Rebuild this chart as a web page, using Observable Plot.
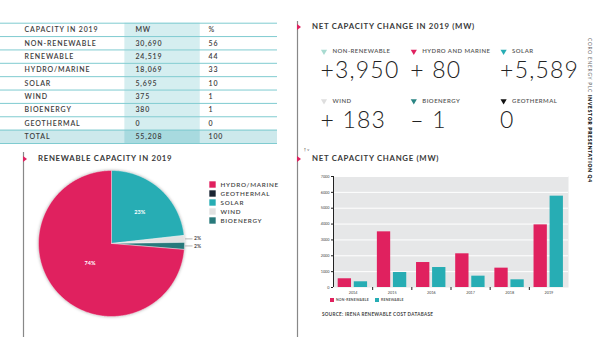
<!DOCTYPE html>
<html><head><meta charset="utf-8">
<script src="https://cdn.jsdelivr.net/npm/d3@7"></script>
<script src="https://cdn.jsdelivr.net/npm/@observablehq/plot@0.6"></script>
<style>
body{margin:0;background:#fff;}
#root{position:relative;width:601px;height:337px;overflow:hidden;font-family:Lato,"Open Sans",sans-serif;color:#333;background:#fff;}
#root svg{position:absolute;background:transparent;}
#root svg.overlay{z-index:20;pointer-events:none;}
.title{position:absolute;font-size:7.8px;font-weight:700;letter-spacing:0.7px;color:#3a3a3a;white-space:nowrap;line-height:1;z-index:5;}
.small{position:absolute;white-space:nowrap;line-height:1;font-weight:700;color:#555;z-index:5;}
.sw{position:absolute;width:4px;height:4px;z-index:5;}
.tbl text{letter-spacing:0.85px;}
.kpi g[font-size="6"] text{letter-spacing:0.45px;}
.kpi g[font-size="23"] text{letter-spacing:1.2px;}
.legend text{letter-spacing:0.7px;}
.pie g[aria-label="line"]{filter:drop-shadow(0 0 1.5px rgba(0,0,0,0.3));}
</style></head><body><div id="root"></div>
<script>
// ---------- data ----------
const tableHeader = ["CAPACITY IN 2019", "MW", "%"];
const tableCategories = ["NON-RENEWABLE","RENEWABLE","HYDRO/MARINE","SOLAR","WIND","BIOENERGY","GEOTHERMAL","TOTAL"];
const tableMW = [30690, 24519, 18069, 5695, 375, 380, 0, 55208];
const tablePct = [56, 44, 33, 10, 1, 1, 0, 100];

const kpiCategories = ["NON-RENEWABLE","HYDRO AND MARINE","SOLAR","WIND","BIOENERGY","GEOTHERMAL"];
const kpiChange = [3950, 80, 5589, 183, -1, 0];

const pieCategories = ["SOLAR","WIND","BIOENERGY","GEOTHERMAL","HYDRO/MARINE"];
const pieValues = [5695, 375, 380, 0, 18069];
const legendOrder = ["HYDRO/MARINE","GEOTHERMAL","SOLAR","WIND","BIOENERGY"];

const years = ["2014","2015","2016","2017","2018","2019"];
const seriesNames = ["NON-RENEWABLE","RENEWABLE"];
const nonRenewable = [550, 3510, 1575, 2125, 1220, 3950];
const renewable = [360, 945, 1260, 715, 485, 5760];

// ---------- styles ----------
const PINK = "#e0215f", TEAL = "#27adb4";
const pieColors = {"HYDRO/MARINE": PINK, "GEOTHERMAL": "#1b2533", "SOLAR": TEAL, "WIND": "#e2e2e2", "BIOENERGY": "#28797b"};
const kpiColors = ["#a9dbd1", PINK, TEAL, "#dedede", "#2a8583", "#111111"];
const font = "Lato, 'Open Sans', sans-serif";

const root = document.getElementById("root");
function place(el, left, top) { el.style.left = left + "px"; el.style.top = top + "px"; root.appendChild(el); return el; }
function div(cls, text, left, top, extra) { const d = document.createElement("div"); d.className = cls; d.textContent = text || ""; if (extra) Object.assign(d.style, extra); return place(d, left, top); }

// ---------- table ----------
const fmtN = d3.format(",");
const rows = [{i: 0, name: tableHeader[0], mw: tableHeader[1], pct: tableHeader[2], total: false}]
  .concat(tableCategories.map((c, k) => ({i: k + 1, name: c, mw: fmtN(tableMW[k]), pct: String(tablePct[k]), total: c === "TOTAL"})));
const nRows = rows.length;
const colMW = [0.449, 0.721];
const tbl = Plot.plot({
  className: "tbl", width: 277, height: 150, margin: 0,
  style: {fontFamily: font, background: "transparent"},
  x: {domain: [0, 1], range: [0, 277], axis: null},
  y: {domain: [0, nRows], range: [22.7, 143], axis: null},
  marks: [
    Plot.rect(rows.filter(d => d.total), {x1: 0, x2: 1, y1: d => d.i, y2: d => d.i + 1, fill: "#cde9ec"}),
    Plot.rect(rows, {x1: colMW[0], x2: colMW[1], y1: d => d.i, y2: d => d.i + 1, fill: d => d.total ? "#a8dadf" : "#d5eef0"}),
    Plot.ruleY(d3.range(nRows + 1), {stroke: "#7fcbd0", strokeWidth: 1}),
    Plot.text(rows, {x: 0.087, y: d => d.i + 0.5, text: "name", textAnchor: "start", fontSize: 7, fontWeight: 600, fill: "#3d3d3d"}),
    Plot.text(rows, {x: 0.487, y: d => d.i + 0.5, text: "mw", textAnchor: "start", fontSize: 7, fontWeight: 600, fill: "#3d3d3d"}),
    Plot.text(rows, {x: 0.751, y: d => d.i + 0.5, text: "pct", textAnchor: "start", fontSize: 7, fontWeight: 600, fill: "#3d3d3d"})
  ]
});
place(tbl, 0, 0);

// ---------- KPI ----------
const fmtChange = v => v === 0 ? "0" : (v > 0 ? "+" : "\u2013") + (Math.abs(v) >= 1000 ? "" : " ") + fmtN(Math.abs(v));
const kpi = kpiCategories.map((c, k) => ({cat: c, col: k % 3, row: Math.floor(k / 3), v: kpiChange[k], color: kpiColors[k]}));
const kpiPlot = Plot.plot({
  className: "kpi", width: 280, height: 110, margin: 0,
  style: {fontFamily: font, background: "transparent"},
  x: {domain: [0, 3], range: [20, 289.4], axis: null},
  y: {domain: [0, 2], range: [21, 120], axis: null},
  color: {type: "identity"},
  marks: [
    Plot.dot(kpi, {x: "col", y: "row", dx: 3.5, symbol: "triangle", rotate: 180, r: 2.3, fill: "color", stroke: null}),
    Plot.text(kpi, {x: "col", y: "row", dx: 12, text: "cat", textAnchor: "start", fontSize: 6, fontWeight: 600, fill: "#555"}),
    Plot.text(kpi, {x: "col", y: "row", dy: 19.5, text: d => fmtChange(d.v), textAnchor: "start", fontSize: 23, fontWeight: 300, fill: "#222"})
  ]
});
place(kpiPlot, 300, 30);

// ---------- pie ----------
const pieTotal = d3.sum(pieValues);
const arcs = d3.pie().sort(null).value(d => d.value)(pieCategories.map((c, k) => ({cat: c, value: pieValues[k]})));
const piePts = arcs.filter(a => a.data.value > 0).flatMap(a => {
  const n = Math.max(2, Math.ceil((a.endAngle - a.startAngle) / 0.01));
  const pts = [{cat: a.data.cat, x: 0, y: 0}];
  for (let j = 0; j <= n; j++) {
    const t = a.startAngle + (a.endAngle - a.startAngle) * j / n;
    pts.push({cat: a.data.cat, x: Math.sin(t), y: Math.cos(t)});
  }
  pts.push({cat: a.data.cat, x: 0, y: 0});
  return pts;
});
const pctFmt = d3.format(".0%");
const insideR = {"SOLAR": 0.58, "HYDRO/MARINE": 0.4};
const mid = a => (a.startAngle + a.endAngle) / 2;
const inside = arcs.filter(a => insideR[a.data.cat]).map(a => ({x: Math.sin(mid(a)) * insideR[a.data.cat], y: Math.cos(mid(a)) * insideR[a.data.cat], t: pctFmt(a.data.value / pieTotal)}));
const outside = arcs.filter(a => a.data.value > 0 && !insideR[a.data.cat]).map(a => ({x: Math.sin(mid(a)), y: Math.cos(mid(a)), t: pctFmt(a.data.value / pieTotal)}));
const piePlot = Plot.plot({
  className: "pie", width: 210, height: 192, margin: 0,
  style: {fontFamily: font, background: "transparent"},
  x: {domain: [-1, 1], range: [38, 184], axis: null},
  y: {domain: [-1, 1], range: [171, 25], axis: null},
  color: {domain: Object.keys(pieColors), range: Object.values(pieColors)},
  marks: [
    Plot.line(piePts, {x: "x", y: "y", z: "cat", fill: "cat", stroke: "white", strokeWidth: 0.4, curve: "linear"}),
    Plot.text(inside, {x: "x", y: "y", text: "t", fill: "white", fontSize: 5.5, fontWeight: 700}),
    Plot.link(outside, {x1: d => d.x * 1.01, y1: "y", x2: 1.11, y2: "y", stroke: "#888", strokeWidth: 0.6}),
    Plot.text(outside, {x: 1.13, y: "y", text: "t", textAnchor: "start", fill: "#555", fontSize: 5, fontWeight: 700})
  ]
});
place(piePlot, 0, 145);

const legendPlot = Plot.plot({
  className: "legend", width: 90, height: 65, margin: 0,
  style: {fontFamily: font, background: "transparent"},
  x: {domain: [0, 1], range: [7, 15], axis: null},
  y: {type: "point", domain: legendOrder, range: [9, 55.6], axis: null},
  color: {domain: Object.keys(pieColors), range: Object.values(pieColors)},
  marks: [
    Plot.dot(legendOrder, {x: () => 0, y: d => d, symbol: "square", r: 3.6, fill: d => d, stroke: null}),
    Plot.text(legendOrder, {x: () => 1, y: d => d, text: d => d, textAnchor: "start", fontSize: 6.3, fontWeight: 600, fill: "#444"})
  ]
});
place(legendPlot, 205, 170);

// ---------- bar chart ----------
const bars = years.flatMap((y, i) => [
  {i, series: seriesNames[0], v: nonRenewable[i]},
  {i, series: seriesNames[1], v: renewable[i]}
]);
const barOffset = {"NON-RENEWABLE": 0.12, "RENEWABLE": 0.53};
const barW = 0.34;
const barPlot = Plot.plot({
  width: 301, height: 160, marginLeft: 33, marginRight: 33, marginTop: 31, marginBottom: 18,
  style: {fontFamily: font, background: "transparent"},
  x: {domain: [0, years.length], axis: null},
  y: {domain: [0, 7000], axis: null},
  color: {domain: seriesNames, range: [PINK, TEAL]},
  marks: [
    Plot.frame({fill: "#e6e7e8", stroke: null}),
    Plot.gridY(d3.range(1000, 7001, 1000), {stroke: "#ffffff", strokeOpacity: 1, strokeWidth: 1}),
    Plot.rect(bars, {x1: d => d.i + barOffset[d.series], x2: d => d.i + barOffset[d.series] + barW, y1: 0, y2: "v", fill: "series"}),
    Plot.axisY(d3.range(0, 7001, 1000), {tickSize: 2, tickPadding: 2, fontSize: 3.8, tickFormat: d3.format("d"), stroke: "#222", fill: "#444"}),
    Plot.ruleX([0], {stroke: "#222", strokeWidth: 1}),
    Plot.axisX(d3.range(1, years.length), {tickSize: 3, tickFormat: () => "", stroke: "#222"}),
    Plot.text(years, {x: (d, i) => i + 0.5, frameAnchor: "bottom", dy: 6, text: d => d, fontSize: 3.8, fill: "#444"})
  ]
});
place(barPlot, 300, 145);

// bar legend + source
div("sw", "", 330, 298, {background: PINK});
div("small", seriesNames[0], 336, 298.5, {fontSize: "3.4px", letterSpacing: "0.25px"});
div("sw", "", 375, 298, {background: TEAL});
div("small", seriesNames[1], 381, 298.5, {fontSize: "3.4px", letterSpacing: "0.25px"});
div("small", "SOURCE: IRENA RENEWABLE COST DATABASE", 322, 311.5, {fontSize: "4.6px", letterSpacing: "0.3px", color: "#444"});

// side text
const side = document.createElement("div");
side.className = "small";
Object.assign(side.style, {fontSize: "4.8px", letterSpacing: "0.8px", transformOrigin: "0 0", transform: "rotate(90deg)", color: "#333"});
side.innerHTML = '<span style="font-weight:400;color:#666">CORO ENERGY PLC </span><span style="font-weight:800;color:#111">INVESTOR PRESENTATION Q4</span>';
place(side, 592, 38);

// titles
div("title", "NET CAPACITY CHANGE IN 2019 (MW)", 312, 23);
div("title", "RENEWABLE CAPACITY IN 2019", 38, 155);
div("title", "NET CAPACITY CHANGE (MW)", 312, 155);

// decorative overlay: section rules and markers
const ov = d3.create("svg").attr("class", "overlay").attr("width", 601).attr("height", 337);
const sections = [{x: 23.5, y0: 152, y1: 337, marks: [159]}, {x: 297.5, y0: 21, y1: 337, marks: [27, 159]}];
for (const s of sections) {
  ov.append("line").attr("x1", s.x).attr("x2", s.x).attr("y1", s.y0).attr("y2", s.y1).attr("stroke", "#888").attr("stroke-width", 1.2);
  for (const m of s.marks) ov.append("path").attr("d", `M${s.x - 0.5},${m - 3}L${s.x + 3.5},${m}L${s.x - 0.5},${m + 3}Z`).attr("fill", PINK);
}
place(ov.node(), 0, 0);
</script></body></html>
